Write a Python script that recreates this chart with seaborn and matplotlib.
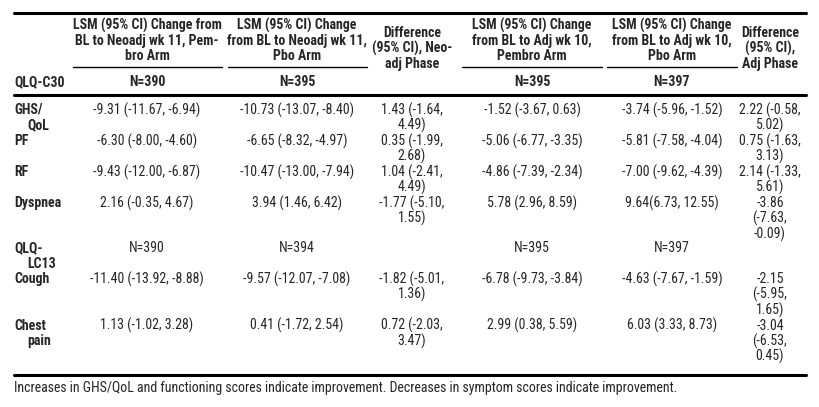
import textwrap
import matplotlib
matplotlib.use("Agg")
import matplotlib.pyplot as plt
from matplotlib import font_manager
import seaborn as sns

# ---------------- data ----------------
col_headers = [
    "LSM (95% CI) Change from\nBL to Neoadj wk 11, Pem-\nbro Arm",
    "LSM (95% CI) Change\nfrom BL to Neoadj wk 11,\nPbo Arm",
    "Difference\n(95% CI), Neo-\nadj Phase",
    "LSM (95% CI) Change\nfrom BL to Adj wk 10,\nPembro Arm",
    "LSM (95% CI) Change\nfrom BL to Adj wk 10,\nPbo Arm",
    "Difference\n(95% CI),\nAdj Phase",
]
c30_label = "QLQ-C30"
c30_n = ["N=390", "N=395", "", "N=395", "N=397", ""]
c30_rows = ["GHS/QoL", "PF", "RF", "Dyspnea"]
c30_neo_pembro = ["-9.31 (-11.67, -6.94)", "-6.30 (-8.00, -4.60)", "-9.43 (-12.00, -6.87)", "2.16 (-0.35, 4.67)"]
c30_neo_pbo = ["-10.73 (-13.07, -8.40)", "-6.65 (-8.32, -4.97)", "-10.47 (-13.00, -7.94)", "3.94 (1.46, 6.42)"]
c30_neo_diff = ["1.43 (-1.64, 4.49)", "0.35 (-1.99, 2.68)", "1.04 (-2.41, 4.49)", "-1.77 (-5.10, 1.55)"]
c30_adj_pembro = ["-1.52 (-3.67, 0.63)", "-5.06 (-6.77, -3.35)", "-4.86 (-7.39, -2.34)", "5.78 (2.96, 8.59)"]
c30_adj_pbo = ["-3.74 (-5.96, -1.52)", "-5.81 (-7.58, -4.04)", "-7.00 (-9.62, -4.39)", "9.64(6.73, 12.55)"]
c30_adj_diff = ["2.22 (-0.58, 5.02)", "0.75 (-1.63, 3.13)", "2.14 (-1.33, 5.61)", "-3.86 (-7.63, -0.09)"]

lc13_label = "QLQ-LC13"
lc13_n = ["N=390", "N=394", "", "N=395", "N=397", ""]
lc13_rows = ["Cough", "Chest pain"]
lc13_neo_pembro = ["-11.40 (-13.92, -8.88)", "1.13 (-1.02, 3.28)"]
lc13_neo_pbo = ["-9.57 (-12.07, -7.08)", "0.41 (-1.72, 2.54)"]
lc13_neo_diff = ["-1.82 (-5.01, 1.36)", "0.72 (-2.03, 3.47)"]
lc13_adj_pembro = ["-6.78 (-9.73, -3.84)", "2.99 (0.38, 5.59)"]
lc13_adj_pbo = ["-4.63 (-7.67, -1.59)", "6.03 (3.33, 8.73)"]
lc13_adj_diff = ["-2.15 (-5.95, 1.65)", "-3.04 (-6.53, 0.45)"]

footnote = ("Increases in GHS/QoL and functioning scores indicate improvement. "
            "Decreases in symptom scores indicate improvement.")

# ---------------- style ----------------
sns.set_theme(style="white")
avail = {f.name for f in font_manager.fontManager.ttflist}
fam = "DejaVu Sans"
for cand in ["Roboto Condensed", "Arial Narrow", "Liberation Sans Narrow", "Archivo Narrow",
             "Asap Condensed", "Barlow Semi Condensed", "Barlow Condensed"]:
    if cand in avail:
        fam = cand
        break
plt.rcParams["font.family"] = [fam, "DejaVu Sans"]
FS = 10.0

fig = plt.figure(figsize=(8.2, 4.07), dpi=100)
ax = fig.add_axes([0, 0, 1, 1])
ax.set_xlim(0, 820)
ax.set_ylim(407, 0)
ax.axis("off")

x_left = 14
x_right = 806
col_x = [147, 297, 412, 532, 672, 770]
wrap_w = [40, 40, 13, 40, 40, 12]
LH = 15.5

# header
ax.plot([x_left, x_right], [13, 13], color="black", lw=2.2)
for cx, h in zip(col_x, col_headers):
    lines = h.split("\n")
    y0 = 25 if cx not in (col_x[2], col_x[5]) else 33
    for i, ln in enumerate(lines):
        ax.text(cx, y0 + i * LH, ln, ha="center", va="center", fontsize=FS, fontweight="bold")
for a, b in [(73, 222), (228, 367), (462, 602), (607, 737)]:
    ax.plot([a, b], [67, 67], color="black", lw=1.0)
ax.text(x_left, 82, c30_label, ha="left", va="center", fontsize=FS, fontweight="bold")
for cx, n in zip(col_x, c30_n):
    if n:
        ax.text(cx, 82, n, ha="center", va="center", fontsize=FS, fontweight="bold")
ax.plot([x_left, x_right], [95, 95], color="black", lw=2.2)


def split_label(lbl):
    if "/" in lbl:
        i = lbl.index("/") + 1
        return [lbl[:i], lbl[i:]]
    if " " in lbl:
        return lbl.split(" ", 1)
    if lbl.startswith("QLQ-L"):
        return ["QLQ-", lbl[4:]]
    return [lbl]


def draw_label(y, lbl):
    parts = split_label(lbl)
    for i, p in enumerate(parts):
        ax.text(x_left + (13 if i else 0), y + i * LH, p, ha="left", va="center",
                fontsize=FS, fontweight="bold")
    return len(parts)


def draw_rows(y, rows, cols):
    for r, lbl in enumerate(rows):
        nl = draw_label(y, lbl)
        for c, cx in enumerate(col_x):
            lines = textwrap.wrap(cols[c][r], wrap_w[c])
            nl = max(nl, len(lines))
            for i, ln in enumerate(lines):
                ax.text(cx, y + i * LH, ln, ha="center", va="center", fontsize=FS)
        y += nl * LH
    return y


y = 110
y = draw_rows(y, c30_rows, [c30_neo_pembro, c30_neo_pbo, c30_neo_diff,
                            c30_adj_pembro, c30_adj_pbo, c30_adj_diff])
y -= 1.5
nl = draw_label(y, lc13_label)
for cx, n in zip(col_x, lc13_n):
    if n:
        ax.text(cx, y, n, ha="center", va="center", fontsize=FS)
y += nl * LH
y = draw_rows(y, lc13_rows, [lc13_neo_pembro, lc13_neo_pbo, lc13_neo_diff,
                             lc13_adj_pembro, lc13_adj_pbo, lc13_adj_diff])
ax.plot([x_left, x_right], [375, 375], color="black", lw=2.2)
ax.text(x_left, 388, footnote, ha="left", va="center", fontsize=FS)

fig.savefig("out.png", dpi=100, facecolor="white")
